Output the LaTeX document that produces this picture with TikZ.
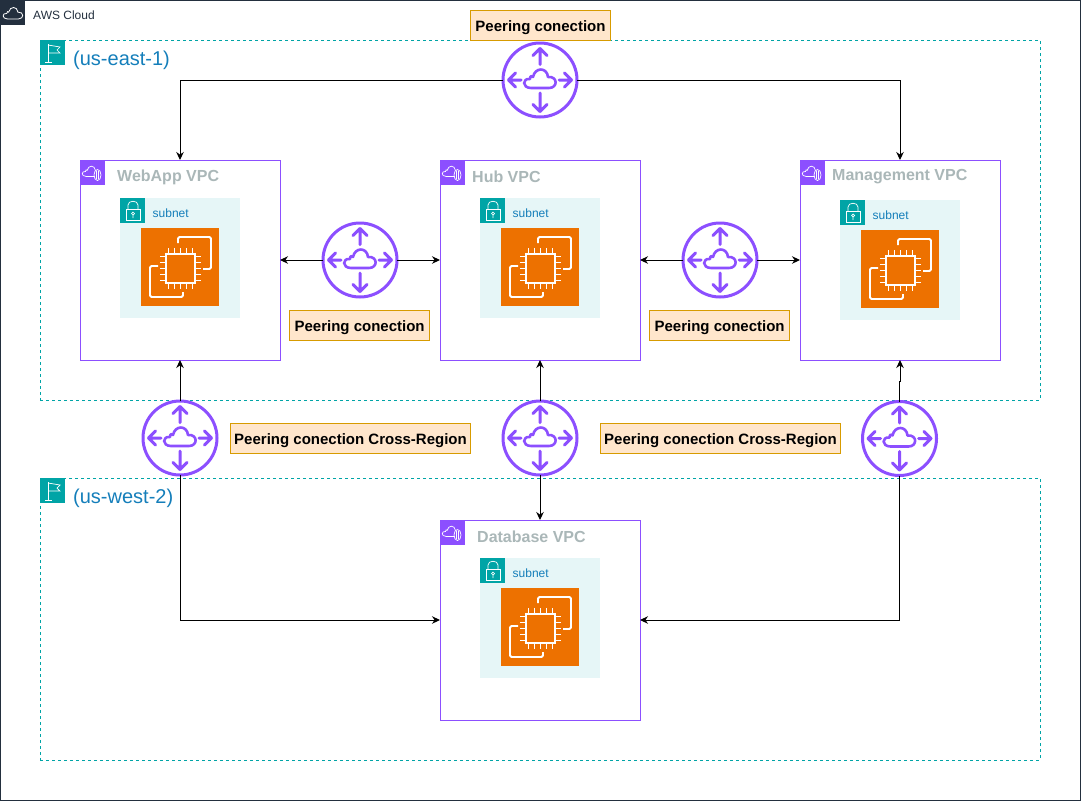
\documentclass[tikz,border=0pt]{standalone}
\usepackage{fontspec}
\setmainfont{Liberation Sans}
\usetikzlibrary{positioning,arrows.meta}
\definecolor{cloudnavy}{HTML}{232F3E}
\definecolor{regionteal}{HTML}{00A4A6}
\definecolor{vpcpurple}{HTML}{8C4FFF}
\definecolor{subnetfill}{HTML}{E6F6F7}
\definecolor{ectwoorange}{HTML}{ED7100}
\definecolor{titleblue}{HTML}{147EBA}
\definecolor{titlegray}{HTML}{AAB7B8}
\definecolor{notefill}{HTML}{FFE6CC}
\definecolor{notedraw}{HTML}{D79B00}
\newcommand{\fsize}[1]{\fontsize{#1}{#1}\selectfont}
\newcommand{\cloudoutline}{(-9,8) .. controls (-18,8) and (-18,-2) .. (-10,-1) .. controls (-10,-4) and (-8,-5) .. (-7,-3) .. controls (-5,-13) and (7,-13) .. (8,-3) .. controls (18,-4) and (18,8) .. (9,8) -- cycle}
\tikzset{
  regionbox/.style={draw=regionteal,dashed,dash pattern=on 3pt off 3pt,line width=.8pt,minimum width=1000pt,outer sep=0pt,inner sep=0pt},
  vpcbox/.style={draw=vpcpurple,fill=white,line width=1pt,minimum size=200pt,outer sep=0pt,inner sep=0pt},
  subnetbox/.style={fill=subnetfill,minimum size=120pt,outer sep=0pt,inner sep=0pt,anchor=north west},
  ectwobox/.style={fill=ectwoorange,minimum size=78pt,outer sep=0pt,inner sep=0pt,anchor=north west},
  iconbox/.style={minimum size=25pt,outer sep=0pt,inner sep=0pt,anchor=north west},
  routerbox/.style={circle,draw=vpcpurple,fill=white,line width=3pt,minimum size=74pt,outer sep=0pt,inner sep=0pt},
  notebox/.style={draw=notedraw,fill=notefill,line width=.8pt,minimum height=30pt,outer sep=0pt,inner sep=0pt,text height=12.8pt,text depth=0pt,font=\fsize{15}\bfseries},
  vpctitle/.style={anchor=west,inner sep=0pt,text=titlegray,font=\fsize{16}\bfseries},
  regiontitle/.style={anchor=west,inner sep=0pt,text=titleblue,font=\fsize{20}},
  subnettitle/.style={anchor=west,inner sep=0pt,text=titleblue,font=\fsize{12}},
  conn/.style={draw=black,line width=1pt,>={Stealth[length=8pt,width=7.5pt]}},
  routericon/.pic={
    \draw[vpcpurple,line width=2.6pt,line join=round] \cloudoutline;
    \foreach \a/\s in {0/19,90/15.5,180/19,270/13}{
      \begin{scope}[rotate=\a]
        \draw[vpcpurple,line width=3pt,line cap=round,line join=round] (\s,0) -- (31.5,0) (24.5,-7) -- (31.5,0) -- (24.5,7);
      \end{scope}
    }
  },
  ectwoicon/.pic={
    \draw[white,line width=1.8pt] (25,26) rectangle (54,55);
    \foreach \d in {0,1,2,3,4}{
      \draw[white,line width=1.8pt] (27.5+6*\d,20) -- (27.5+6*\d,26) (27.5+6*\d,55) -- (27.5+6*\d,61);
      \draw[white,line width=1.8pt] (19,28.5+6*\d) -- (25,28.5+6*\d) (54,28.5+6*\d) -- (60,28.5+6*\d);
    }
    \draw[white,line width=1.8pt,rounded corners=1.5pt] (37,15) -- (37,9) -- (70,9) -- (70,41) -- (62,41);
    \draw[white,line width=1.8pt,rounded corners=1.5pt] (17,38) -- (9,38) -- (9,69) -- (42,69) -- (42,64);
  },
  lockicon/.pic={
    \draw[white,line width=.7pt] (6,11) rectangle (20,22);
    \draw[white,line width=.7pt] (8,11) -- (8,7) .. controls (8,2) and (18,2) .. (18,7) -- (18,11);
    \draw[white,line width=.7pt] (13,15.5) circle (1.5pt) (13,17) -- (13,20);
  },
  flagicon/.pic={
    \draw[white,line width=.7pt] (8,4) -- (8,22) (5,22) -- (12,22);
    \draw[white,line width=.7pt] (8,5) -- (20,7) -- (17,10) -- (20,13) -- (8,13);
  },
  vpcicon/.pic={
    \draw[white,line width=.7pt,shift={(11,12)},scale=.55] \cloudoutline;
    \draw[white,fill=vpcpurple,line width=.7pt] (17.5,15) ellipse (3.5pt and 5.5pt);
    \draw[white,line width=.5pt] (16.5,11) -- (16.5,19) (18.5,11) -- (18.5,19);
  },
  awsicon/.pic={
    \draw[white,line width=.8pt,shift={(13,14)},scale=.62] \cloudoutline;
  },
}
\begin{document}
\begin{tikzpicture}[x=1pt,y=-1pt]
  \useasboundingbox (0,0) rectangle (1081,801);
  % outer frame
  \draw[cloudnavy,line width=1pt] (.5,.5) rectangle (1080.5,800);
  \node[iconbox,fill=cloudnavy] (awsmark) at (0,0) {};
  \pic at (awsmark.north west) {awsicon};
  \node[anchor=west,inner sep=0pt,text=cloudnavy,font=\fsize{12}] (awstitle) at (33,15.5) {AWS Cloud};
  % regions
  \node[regionbox,minimum height=360pt] (east) at (540,220) {};
  \node[regionbox,minimum height=282pt] (west) at (540,619) {};
  \foreach \n/\y in {eastmark/40,westmark/478}{
    \node[iconbox,fill=regionteal] (\n) at (40,\y) {};
    \pic at (\n.north west) {flagicon};
  }
  \node[regiontitle] (easttitle) at (73,60.5) {(us-east-1)};
  \node[regiontitle] (westtitle) at (73,498.5) {(us-west-2)};
  % vpcs
  \node[vpcbox] (webapp) at (180,260) {};
  \node[vpcbox] (hub) at (540,260) {};
  \node[vpcbox] (mgmt) at (900,260) {};
  \node[vpcbox] (database) at (540,620) {};
  \foreach \n/\x/\y in {webmark/80/160,hubmark/440/160,mgmtmark/800/160,dbmark/440/520}{
    \node[iconbox,fill=vpcpurple] (\n) at (\x,\y) {};
    \pic at (\n.north west) {vpcicon};
  }
  \node[vpctitle] (webtitle) at (117,177) {WebApp VPC};
  \node[vpctitle] (hubtitle) at (472,177) {Hub VPC};
  \node[vpctitle] (mgmttitle) at (832,177) {Management VPC};
  \node[vpctitle] (dbtitle) at (477,537) {Database VPC};
  % subnets
  \foreach \n/\x/\y in {a/120/198,b/480/198,c/840/200,d/480/558}{
    \node[subnetbox] (sub\n) at (\x+.3,\y+.3) {};
    \node[iconbox,fill=regionteal] (lock\n) at (\x,\y) {};
    \pic at (lock\n.north west) {lockicon};
    \node[subnettitle] (subtitle\n) at (\x+32.5,\y+15) {subnet};
    \node[ectwobox] (ec\n) at (\x+21,\y+30) {};
    \pic at (ec\n.north west) {ectwoicon};
  }
  % routers
  \node[routerbox] (r1) at (540,80) {};
  \node[routerbox] (r2) at (360,260) {};
  \node[routerbox] (r3) at (720,260) {};
  \node[routerbox] (r4) at (180,438) {};
  \node[routerbox] (r5) at (540,438) {};
  \node[routerbox] (r6) at (899.5,438.5) {};
  \foreach \r in {r1,r2,r3,r4,r5,r6}{
    \pic at (\r) {routericon};
  }
  % connectors
  \draw[conn,->] (r1.west) -| (webapp.north);
  \draw[conn,->] (r1.east) -| (mgmt.north);
  \draw[conn,->] (r2.west) -- (webapp.east);
  \draw[conn,->] (r2.east) -- (hub.west);
  \draw[conn,->] (r3.west) -- (hub.east);
  \draw[conn,->] (r3.east) -- (mgmt.west);
  \draw[conn,->] (r4.north) -- (webapp.south);
  \draw[conn,->] (r5.north) -- (hub.south);
  \draw[conn,->] (r6.north) -- ++(0,-20) -| (mgmt.south);
  \draw[conn,->] (r4.south) |- (database.west);
  \draw[conn,->] (r5.south) -- (database.north);
  \draw[conn,->] (r6.south) |- (database.east);
  % notes
  \node[notebox,minimum width=140pt] (note1) at (540.5,25.3) {Peering conection};
  \node[notebox,minimum width=140pt] (note2) at (359.6,325.3) {Peering conection};
  \node[notebox,minimum width=140pt] (note3) at (719.6,325.3) {Peering conection};
  \node[notebox,minimum width=240pt] (note4) at (350.5,438.3) {Peering conection Cross-Region};
  \node[notebox,minimum width=240pt] (note5) at (720.5,438.3) {Peering conection Cross-Region};
\end{tikzpicture}
\end{document}
